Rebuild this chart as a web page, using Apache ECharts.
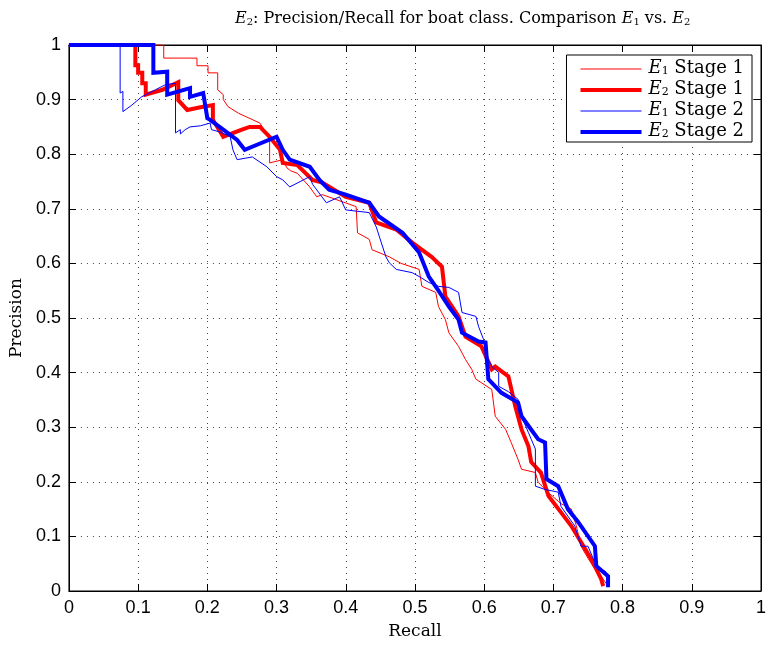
<!DOCTYPE html>
<html>
<head>
<meta charset="utf-8">
<script src="https://cdn.jsdelivr.net/npm/echarts@6/dist/echarts.min.js"></script>
<style>html,body{margin:0;padding:0;background:#fff;}#c{width:769px;height:645px;}</style>
</head>
<body>
<div id="c"></div>
<script>
const xTicks = [0,0.1,0.2,0.3,0.4,0.5,0.6,0.7,0.8,0.9,1];
const yTicks = [0,0.1,0.2,0.3,0.4,0.5,0.6,0.7,0.8,0.9,1];
const seriesNames = ['E1 Stage 1','E2 Stage 1','E1 Stage 2','E2 Stage 2'];

const e1s1 = [[0,1],[0.137,1],[0.137,0.976],[0.185,0.976],[0.185,0.962],[0.201,0.962],[0.201,0.949],[0.215,0.949],[0.215,0.918],[0.223,0.909],[0.223,0.9],[0.23,0.887],[0.245,0.875],[0.257,0.868],[0.276,0.857],[0.282,0.845],[0.29,0.832],[0.29,0.784],[0.309,0.79],[0.315,0.775],[0.32,0.77],[0.33,0.765],[0.348,0.74],[0.358,0.722],[0.366,0.726],[0.386,0.717],[0.415,0.704],[0.417,0.656],[0.434,0.644],[0.438,0.625],[0.463,0.612],[0.48,0.6],[0.506,0.589],[0.51,0.558],[0.53,0.547],[0.534,0.521],[0.544,0.497],[0.549,0.473],[0.563,0.448],[0.573,0.424],[0.582,0.406],[0.588,0.388],[0.611,0.369],[0.616,0.32],[0.631,0.296],[0.639,0.272],[0.649,0.241],[0.654,0.223],[0.674,0.217],[0.678,0.199],[0.693,0.18],[0.711,0.16],[0.726,0.15],[0.733,0.12],[0.74,0.082],[0.75,0.06],[0.76,0.04],[0.769,0.027],[0.779,0.009]];

const e2s1 = [[0,1],[0.096,1],[0.096,0.963],[0.1,0.963],[0.1,0.949],[0.106,0.949],[0.106,0.93],[0.111,0.93],[0.111,0.909],[0.135,0.918],[0.158,0.932],[0.158,0.899],[0.171,0.881],[0.19,0.886],[0.208,0.89],[0.208,0.863],[0.223,0.832],[0.25,0.845],[0.261,0.85],[0.276,0.85],[0.29,0.832],[0.305,0.808],[0.309,0.784],[0.33,0.78],[0.352,0.753],[0.366,0.748],[0.40,0.722],[0.434,0.711],[0.444,0.675],[0.473,0.662],[0.496,0.638],[0.524,0.612],[0.539,0.594],[0.544,0.539],[0.563,0.503],[0.573,0.466],[0.596,0.448],[0.611,0.406],[0.616,0.411],[0.635,0.393],[0.645,0.338],[0.654,0.296],[0.664,0.265],[0.668,0.236],[0.682,0.217],[0.693,0.174],[0.711,0.144],[0.726,0.119],[0.746,0.077],[0.757,0.053],[0.769,0.022],[0.772,0.009]];

const e1s2 = [[0,1],[0.074,1],[0.074,0.912],[0.078,0.915],[0.078,0.878],[0.09,0.889],[0.105,0.905],[0.125,0.918],[0.139,0.927],[0.154,0.93],[0.154,0.839],[0.161,0.845],[0.161,0.837],[0.168,0.845],[0.175,0.85],[0.19,0.852],[0.204,0.857],[0.206,0.845],[0.22,0.84],[0.233,0.832],[0.237,0.808],[0.243,0.79],[0.265,0.795],[0.286,0.777],[0.30,0.759],[0.309,0.753],[0.319,0.74],[0.348,0.759],[0.352,0.745],[0.372,0.711],[0.391,0.722],[0.40,0.698],[0.434,0.693],[0.444,0.667],[0.458,0.612],[0.463,0.601],[0.473,0.589],[0.496,0.583],[0.506,0.576],[0.52,0.565],[0.534,0.558],[0.549,0.556],[0.563,0.547],[0.568,0.51],[0.588,0.503],[0.592,0.484],[0.599,0.461],[0.603,0.43],[0.612,0.41],[0.621,0.40],[0.621,0.375],[0.635,0.365],[0.649,0.351],[0.654,0.32],[0.664,0.29],[0.668,0.278],[0.674,0.26],[0.674,0.192],[0.688,0.186],[0.707,0.181],[0.711,0.155],[0.731,0.119],[0.74,0.082],[0.75,0.082],[0.762,0.046],[0.776,0.035],[0.779,0.016]];

const e2s2 = [[0,1],[0.122,1],[0.122,0.949],[0.142,0.951],[0.142,0.909],[0.175,0.921],[0.175,0.905],[0.194,0.912],[0.2,0.866],[0.204,0.863],[0.223,0.845],[0.243,0.826],[0.254,0.808],[0.30,0.832],[0.309,0.808],[0.319,0.79],[0.348,0.777],[0.362,0.753],[0.376,0.735],[0.40,0.726],[0.434,0.711],[0.448,0.686],[0.482,0.656],[0.506,0.62],[0.52,0.576],[0.534,0.55],[0.549,0.521],[0.563,0.497],[0.568,0.473],[0.592,0.457],[0.602,0.455],[0.606,0.388],[0.625,0.363],[0.649,0.345],[0.654,0.32],[0.678,0.278],[0.688,0.272],[0.69,0.205],[0.707,0.192],[0.721,0.15],[0.736,0.126],[0.76,0.082],[0.762,0.046],[0.779,0.027],[0.779,0.007]];

const seriesData = [e1s1, e2s1, e1s2, e2s2];
const seriesColors = ['#ff0000','#ff0000','#0000ff','#0000ff'];
const seriesWidths = [1, 4, 1, 4];

const chart = echarts.init(document.getElementById('c'), null, {renderer:'canvas'});
const serif = '"DejaVu Serif", "Liberation Serif", serif';
const sans = '"Liberation Sans", Arial, sans-serif';
const tickLabelStyle = {fontFamily: sans, fontSize: 18, color: '#000'};
const gridLine = {show:true, lineStyle:{color:'#444', type:[1,5], width:1}};

const richTitle = {
  i: {fontFamily: serif, fontStyle:'italic', fontWeight:'normal', fontSize: 16, color:'#000', verticalAlign:'bottom', lineHeight: 21},
  s: {fontFamily: serif, fontWeight:'normal', fontSize: 10, color:'#000', verticalAlign:'bottom', lineHeight: 16},
  t: {fontFamily: serif, fontWeight:'normal', fontSize: 16, color:'#000', verticalAlign:'bottom', lineHeight: 21}
};
const richLegend = {
  i: {fontFamily: serif, fontStyle:'italic', fontSize: 18, color:'#000', verticalAlign:'bottom', lineHeight: 16},
  s: {fontFamily: serif, fontSize: 11, color:'#000', verticalAlign:'bottom', lineHeight: 11},
  t: {fontFamily: serif, fontSize: 18, color:'#000', verticalAlign:'bottom', lineHeight: 16}
};

chart.setOption({
  animation: false,
  backgroundColor: '#fff',
  title: {
    text: '{i|E}{s|2}{t|: Precision/Recall for boat class. Comparison }{i|E}{s|1}{t| vs. }{i|E}{s|2}',
    left: 230, top: 1,
    textStyle: {rich: richTitle, fontWeight:'normal', fontFamily: serif}
  },
  grid: {left: 68, right: 5, top: 45, bottom: 53, show: true, borderColor:'#000', borderWidth:1, backgroundColor:'#fff'},
  legend: {
    orient: 'vertical', right: 17, top: 55,
    backgroundColor: '#fff', borderColor: '#000', borderWidth: 1,
    padding: [4, 8, 2, 12], itemWidth: 61, itemHeight: 14, itemGap: 3,
    itemStyle: {opacity: 0},
    data: seriesNames.map(function (n, k) {
      return {name: n, itemStyle: {opacity: 0}, lineStyle: {width: seriesWidths[k], color: seriesColors[k]}};
    }),
    formatter: function (n) { return '{i|E}{s|' + n.charAt(1) + '}{t|' + n.slice(2) + '}'; },
    textStyle: {rich: richLegend, fontFamily: serif, fontSize: 18, padding:[0,0,0,2]}
  },
  xAxis: [{
    type: 'value', min: 0, max: 1, interval: 0.1,
    name: 'Recall', nameLocation: 'middle', nameGap: 32,
    nameTextStyle: {fontFamily: serif, fontSize: 17, color:'#000'},
    axisLine: {show:true, onZero:false, lineStyle:{color:'#000', width:1}},
    axisTick: {show:true, inside:true, length:7, lineStyle:{color:'#000'}},
    axisLabel: Object.assign({margin: 8, formatter: function(v){ const i = xTicks.indexOf(Math.round(v*10)/10); return i>=0 ? String(xTicks[i]) : ''; }}, tickLabelStyle),
    splitLine: gridLine
  },{
    type: 'value', min: 0, max: 1, interval: 0.1, position: 'top',
    axisLine: {show:true, onZero:false, lineStyle:{color:'#000'}},
    axisTick: {show:true, inside:true, length:7, lineStyle:{color:'#000'}},
    axisLabel: {show:false}, splitLine: {show:false}
  }],
  yAxis: [{
    type: 'value', min: 0, max: 1, interval: 0.1,
    name: 'Precision', nameLocation: 'middle', nameGap: 38, nameRotate: 90,
    nameTextStyle: {fontFamily: serif, fontSize: 17, color:'#000'},
    axisLine: {show:true, onZero:false, lineStyle:{color:'#000', width:1}},
    axisTick: {show:true, inside:true, length:7, lineStyle:{color:'#000'}},
    axisLabel: Object.assign({margin: 8, formatter: function(v){ const i = yTicks.indexOf(Math.round(v*10)/10); return i>=0 ? String(yTicks[i]) : ''; }}, tickLabelStyle),
    splitLine: gridLine
  },{
    type: 'value', min: 0, max: 1, interval: 0.1, position: 'right',
    axisLine: {show:true, onZero:false, lineStyle:{color:'#000'}},
    axisTick: {show:true, inside:true, length:7, lineStyle:{color:'#000'}},
    axisLabel: {show:false}, splitLine: {show:false}
  }],
  series: seriesNames.map(function (n, k) {
    return {
      name: n, type: 'line', data: seriesData[k], showSymbol: false, symbol: 'none',
      color: seriesColors[k],
      lineStyle: {color: seriesColors[k], width: seriesWidths[k], join: 'miter'},
      z: 2 + k, clip: true
    };
  })
});
</script>
</body>
</html>
